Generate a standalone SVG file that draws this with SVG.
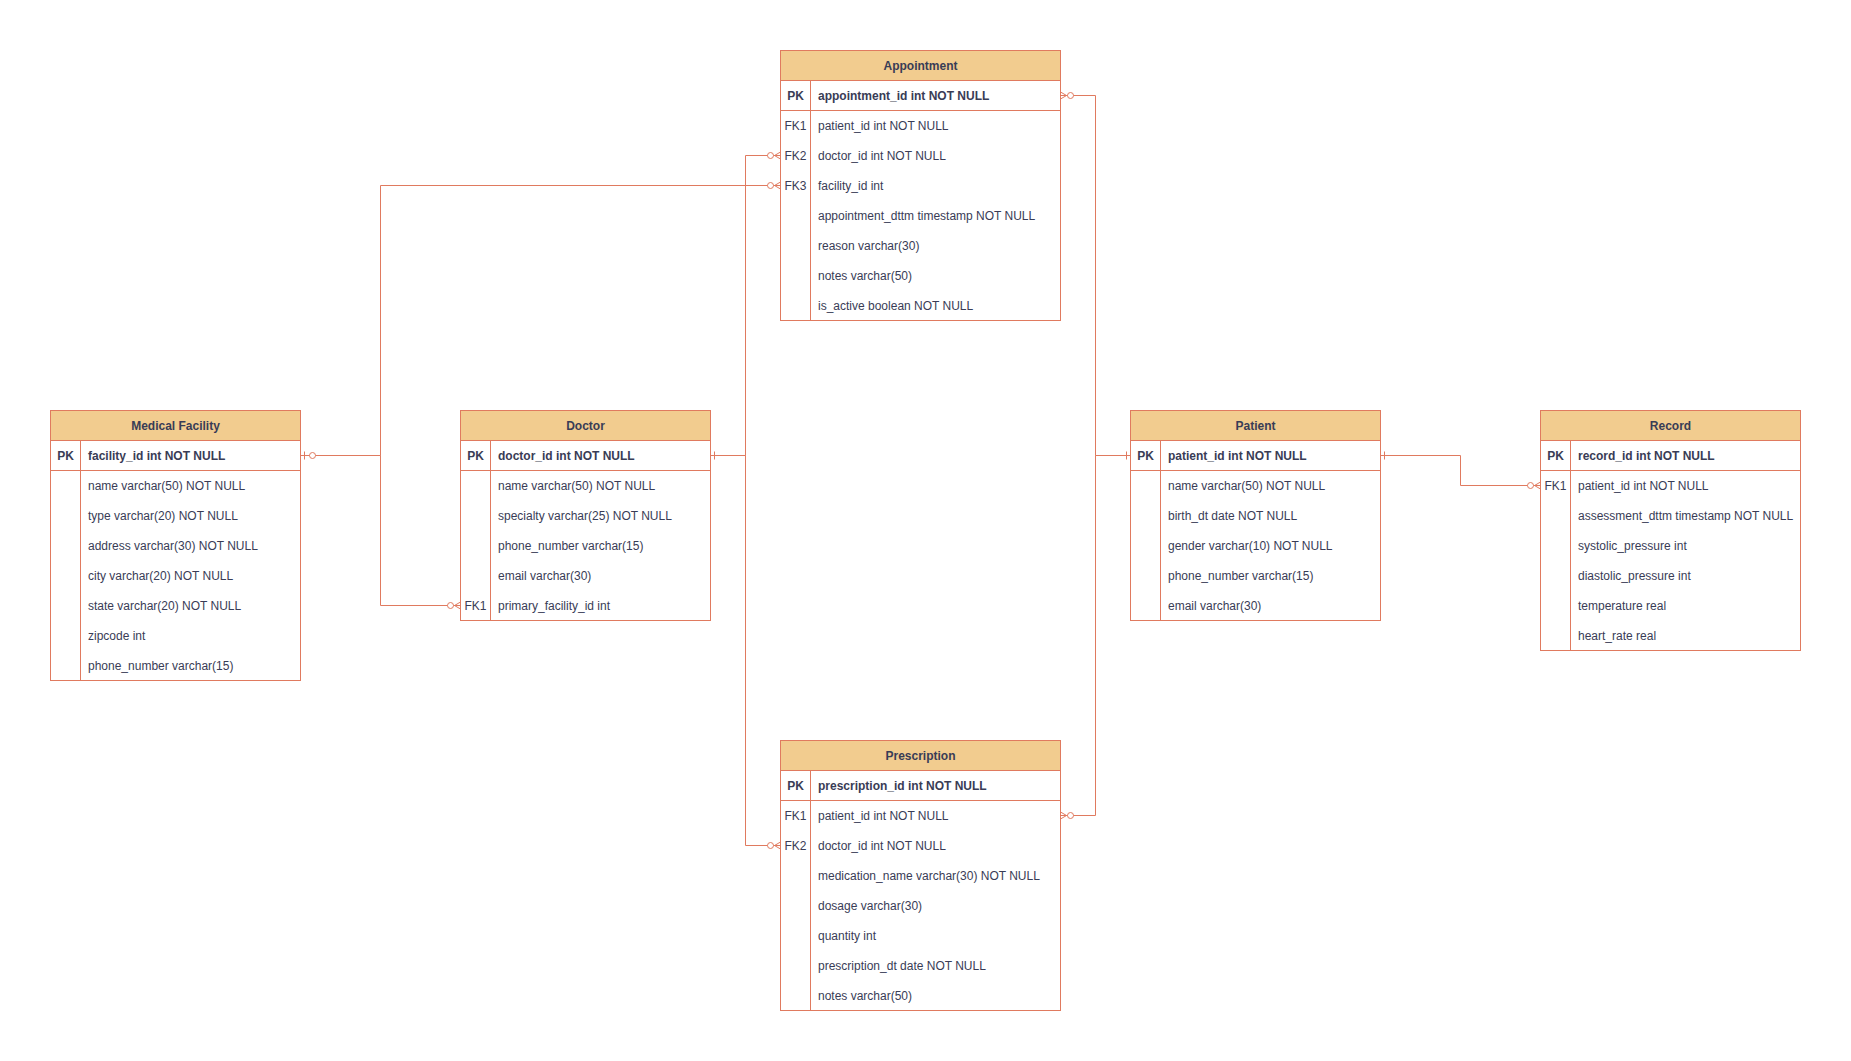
<svg xmlns="http://www.w3.org/2000/svg" xmlns:xlink="http://www.w3.org/1999/xlink" width="1851" height="1061" viewBox="0 0 1851 1061">
<style>
text{font-family:"Liberation Sans",Arial,Helvetica,sans-serif;font-size:12px;fill:#393C56}
.t{font-weight:bold;text-anchor:middle}
.pk{font-weight:bold}
.k{text-anchor:middle}
.hd{fill:#F2CC8F;stroke:#E07A5F;stroke-width:1}
.bd{fill:#FFFFFF;stroke:#E07A5F;stroke-width:1}
.ln{stroke:#E07A5F;stroke-width:1;fill:none}
.mk{stroke:#E07A5F;stroke-width:1;fill:#FFFFFF}
</style>
<defs>
<g id="zm">
<path class="ln" d="M0,-3.5 L6,0 L0,3.5 M0,0 H7"/>
<circle class="mk" cx="10" cy="0" r="3"/>
</g>
<g id="one">
<path class="ln" d="M4,-4 V4"/>
</g>
<g id="zo">
<path class="ln" d="M4,-4 V4"/>
<circle class="mk" cx="12" cy="0" r="3"/>
</g>
</defs>
<rect width="1851" height="1061" fill="#FFFFFF"/>

<g id="connectors">
<path class="ln" d="M1130.5,455.5 H1095.5 V95.5 H1060.5"/>
<path class="ln" d="M1130.5,455.5 H1095.5 V815.5 H1060.5"/>
<path class="ln" d="M710.5,455.5 H745.5 V155.5 H780.5"/>
<path class="ln" d="M710.5,455.5 H745.5 V845.5 H780.5"/>
<path class="ln" d="M300.5,455.5 H380.5 V185.5 H780.5"/>
<path class="ln" d="M300.5,455.5 H380.5 V605.5 H460.5"/>
<path class="ln" d="M1380.5,455.5 H1460.5 V485.5 H1540.5"/>
<use xlink:href="#zm" transform="translate(1060.5,95.5)"/>
<use xlink:href="#zm" transform="translate(1060.5,815.5)"/>
<use xlink:href="#zm" transform="translate(780.5,155.5) scale(-1,1)"/>
<use xlink:href="#zm" transform="translate(780.5,185.5) scale(-1,1)"/>
<use xlink:href="#zm" transform="translate(780.5,845.5) scale(-1,1)"/>
<use xlink:href="#zm" transform="translate(460.5,605.5) scale(-1,1)"/>
<use xlink:href="#zm" transform="translate(1540.5,485.5) scale(-1,1)"/>
<use xlink:href="#one" transform="translate(1130.5,455.5) scale(-1,1)"/>
<use xlink:href="#one" transform="translate(710.5,455.5)"/>
<use xlink:href="#one" transform="translate(1380.5,455.5)"/>
<use xlink:href="#zo" transform="translate(300.5,455.5)"/>
</g>

<g id="appointment">
<rect class="bd" x="780.5" y="50.5" width="280" height="270"/>
<rect class="hd" x="780.5" y="50.5" width="280" height="30"/>
<path class="ln" d="M780.5,110.5 H1060.5 M810.5,80.5 V320.5"/>
<text class="t" x="920.5" y="69.5">Appointment</text>
<text class="k pk" x="795.5" y="99.5">PK</text>
<text class="pk" x="818" y="99.5">appointment_id int NOT NULL</text>
<text class="k" x="795.5" y="129.5">FK1</text>
<text x="818" y="129.5">patient_id int NOT NULL</text>
<text class="k" x="795.5" y="159.5">FK2</text>
<text x="818" y="159.5">doctor_id int NOT NULL</text>
<text class="k" x="795.5" y="189.5">FK3</text>
<text x="818" y="189.5">facility_id int</text>
<text x="818" y="219.5">appointment_dttm timestamp NOT NULL</text>
<text x="818" y="249.5">reason varchar(30)</text>
<text x="818" y="279.5">notes varchar(50)</text>
<text x="818" y="309.5">is_active boolean NOT NULL</text>
</g>

<g id="medical-facility">
<rect class="bd" x="50.5" y="410.5" width="250" height="270"/>
<rect class="hd" x="50.5" y="410.5" width="250" height="30"/>
<path class="ln" d="M50.5,470.5 H300.5 M80.5,440.5 V680.5"/>
<text class="t" x="175.5" y="429.5">Medical Facility</text>
<text class="k pk" x="65.5" y="459.5">PK</text>
<text class="pk" x="88" y="459.5">facility_id int NOT NULL</text>
<text x="88" y="489.5">name varchar(50) NOT NULL</text>
<text x="88" y="519.5">type varchar(20) NOT NULL</text>
<text x="88" y="549.5">address varchar(30) NOT NULL</text>
<text x="88" y="579.5">city varchar(20) NOT NULL</text>
<text x="88" y="609.5">state varchar(20) NOT NULL</text>
<text x="88" y="639.5">zipcode int</text>
<text x="88" y="669.5">phone_number varchar(15)</text>
</g>

<g id="doctor">
<rect class="bd" x="460.5" y="410.5" width="250" height="210"/>
<rect class="hd" x="460.5" y="410.5" width="250" height="30"/>
<path class="ln" d="M460.5,470.5 H710.5 M490.5,440.5 V620.5"/>
<text class="t" x="585.5" y="429.5">Doctor</text>
<text class="k pk" x="475.5" y="459.5">PK</text>
<text class="pk" x="498" y="459.5">doctor_id int NOT NULL</text>
<text x="498" y="489.5">name varchar(50) NOT NULL</text>
<text x="498" y="519.5">specialty varchar(25) NOT NULL</text>
<text x="498" y="549.5">phone_number varchar(15)</text>
<text x="498" y="579.5">email varchar(30)</text>
<text class="k" x="475.5" y="609.5">FK1</text>
<text x="498" y="609.5">primary_facility_id int</text>
</g>

<g id="patient">
<rect class="bd" x="1130.5" y="410.5" width="250" height="210"/>
<rect class="hd" x="1130.5" y="410.5" width="250" height="30"/>
<path class="ln" d="M1130.5,470.5 H1380.5 M1160.5,440.5 V620.5"/>
<text class="t" x="1255.5" y="429.5">Patient</text>
<text class="k pk" x="1145.5" y="459.5">PK</text>
<text class="pk" x="1168" y="459.5">patient_id int NOT NULL</text>
<text x="1168" y="489.5">name varchar(50) NOT NULL</text>
<text x="1168" y="519.5">birth_dt date NOT NULL</text>
<text x="1168" y="549.5">gender varchar(10) NOT NULL</text>
<text x="1168" y="579.5">phone_number varchar(15)</text>
<text x="1168" y="609.5">email varchar(30)</text>
</g>

<g id="record">
<rect class="bd" x="1540.5" y="410.5" width="260" height="240"/>
<rect class="hd" x="1540.5" y="410.5" width="260" height="30"/>
<path class="ln" d="M1540.5,470.5 H1800.5 M1570.5,440.5 V650.5"/>
<text class="t" x="1670.5" y="429.5">Record</text>
<text class="k pk" x="1555.5" y="459.5">PK</text>
<text class="pk" x="1578" y="459.5">record_id int NOT NULL</text>
<text class="k" x="1555.5" y="489.5">FK1</text>
<text x="1578" y="489.5">patient_id int NOT NULL</text>
<text x="1578" y="519.5">assessment_dttm timestamp NOT NULL</text>
<text x="1578" y="549.5">systolic_pressure int</text>
<text x="1578" y="579.5">diastolic_pressure int</text>
<text x="1578" y="609.5">temperature real</text>
<text x="1578" y="639.5">heart_rate real</text>
</g>

<g id="prescription">
<rect class="bd" x="780.5" y="740.5" width="280" height="270"/>
<rect class="hd" x="780.5" y="740.5" width="280" height="30"/>
<path class="ln" d="M780.5,800.5 H1060.5 M810.5,770.5 V1010.5"/>
<text class="t" x="920.5" y="759.5">Prescription</text>
<text class="k pk" x="795.5" y="789.5">PK</text>
<text class="pk" x="818" y="789.5">prescription_id int NOT NULL</text>
<text class="k" x="795.5" y="819.5">FK1</text>
<text x="818" y="819.5">patient_id int NOT NULL</text>
<text class="k" x="795.5" y="849.5">FK2</text>
<text x="818" y="849.5">doctor_id int NOT NULL</text>
<text x="818" y="879.5">medication_name varchar(30) NOT NULL</text>
<text x="818" y="909.5">dosage varchar(30)</text>
<text x="818" y="939.5">quantity int</text>
<text x="818" y="969.5">prescription_dt date NOT NULL</text>
<text x="818" y="999.5">notes varchar(50)</text>
</g>
</svg>
